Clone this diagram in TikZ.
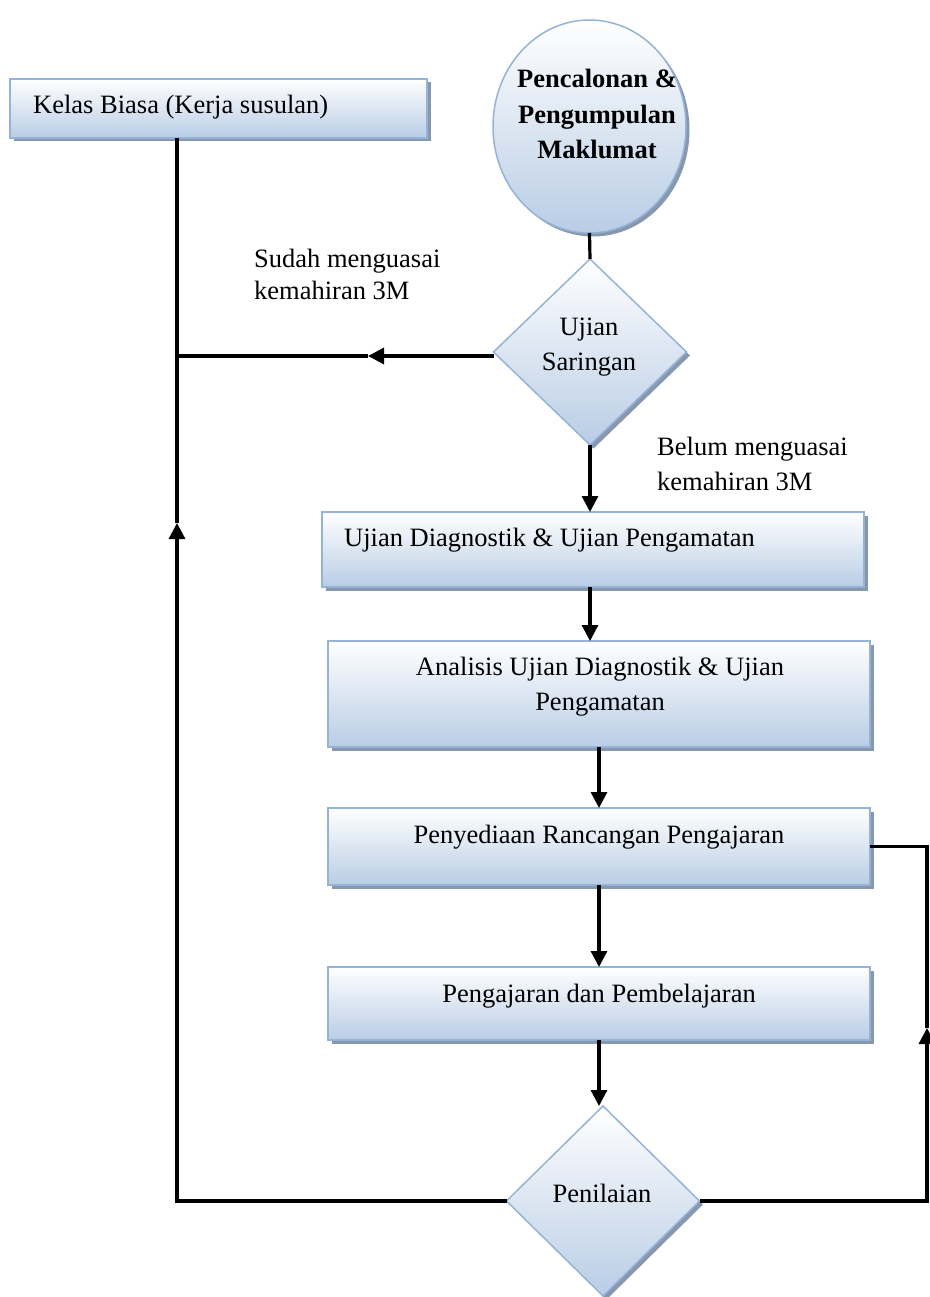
\documentclass[tikz,border=0pt]{standalone}
\usepackage{fontspec}
\setmainfont{Liberation Serif}
\usetikzlibrary{shapes.geometric,arrows.meta,shadows}
\definecolor{bordc}{HTML}{95B3D7}
\definecolor{fillb}{HTML}{B9CDE5}
\definecolor{shadc}{HTML}{8798AE}
\begin{document}
\begin{tikzpicture}[x=1pt,y=-1pt,
  shp/.style={draw=bordc, line width=1.5pt, top color=white, bottom color=fillb,
    drop shadow={shadow xshift=3.5pt, shadow yshift=-3.5pt, fill=shadc, opacity=1},
    inner sep=0pt, outer sep=0pt},
  box/.style={shp, rectangle},
  txt/.style={font=\fontsize{26.5}{35}\selectfont, inner sep=0pt, align=center},
  conn/.style={line width=3.2pt, draw=black},
  arr/.style={conn, -{Triangle[length=16pt,width=16pt]}}]
\useasboundingbox (0,0) rectangle (929,1297);

% shapes
\node[box, minimum width=417pt, minimum height=59pt] (kelas) at (218.5,108.5) {};
\node[shp, ellipse, minimum width=193pt, minimum height=213pt] (start) at (589.5,126.5) {};
\node[shp, diamond, minimum width=193pt, minimum height=186pt] (sar) at (590,352) {};
\node[box, minimum width=542pt, minimum height=75pt] (b2) at (593,549.5) {};
\node[box, minimum width=542pt, minimum height=106pt] (b3) at (599,694) {};
\node[box, minimum width=542pt, minimum height=77pt] (b4) at (599,846.5) {};
\node[box, minimum width=542pt, minimum height=73pt] (b5) at (599,1003.5) {};
\node[shp, diamond, minimum width=193pt, minimum height=190pt] (pen) at (603,1201) {};

% texts
\node[txt, anchor=west] (tkelas) at (33,107) {Kelas Biasa (Kerja susulan)};
\node[txt, font=\fontsize{26.5}{35.5}\selectfont\bfseries] (tstart) at (597,114) {Pencalonan \&\\Pengumpulan\\Maklumat};
\node[txt] (tsar) at (589,347.5) {Ujian\\Saringan};
\node[txt, anchor=west] (tb2) at (344,540) {Ujian Diagnostik \& Ujian Pengamatan};
\node[txt] (tb3) at (600,686.5) {Analisis Ujian Diagnostik \& Ujian\\Pengamatan};
\node[txt] (tb4) at (599,837) {Penyediaan Rancangan Pengajaran};
\node[txt] (tb5) at (599,996) {Pengajaran dan Pembelajaran};
\node[txt] (tpen) at (602,1193) {Penilaian};
\node[txt, align=left, anchor=west, font=\fontsize{26.5}{32}\selectfont] (lsudah) at (254,274) {Sudah menguasai\\kemahiran 3M};
\node[txt, align=left, anchor=west] (lbelum) at (657,463.5) {Belum menguasai\\kemahiran 3M};

% coordinates
\coordinate (xl) at (177,523);
\coordinate (xs) at (368,356);
\coordinate (xr) at (927,1028);

% connectors
\draw[conn] (start.south) -- (sar.north);
\draw[arr] (sar.south) -- (sar.south |- b2.north);
\draw[arr] (sar.south |- b2.south) -- (sar.south |- b3.north);
\draw[arr] (b3.south) -- (b4.north);
\draw[arr] (b4.south) -- (b5.north);
\draw[arr] (b5.south) -- (b5.south |- pen.north);

\draw[arr] (sar.west |- xs) -- (xs);
\draw[conn] (xs) -- (xs -| xl);

\draw[arr] (pen.west) -| (xl);
\draw[conn] (xl) -- (xl |- kelas.south);

\draw[arr] (pen.east) -| (xr);
\draw[conn] (xr) -- (xr |- b4.east) -- (b4.east);
\end{tikzpicture}
\end{document}
